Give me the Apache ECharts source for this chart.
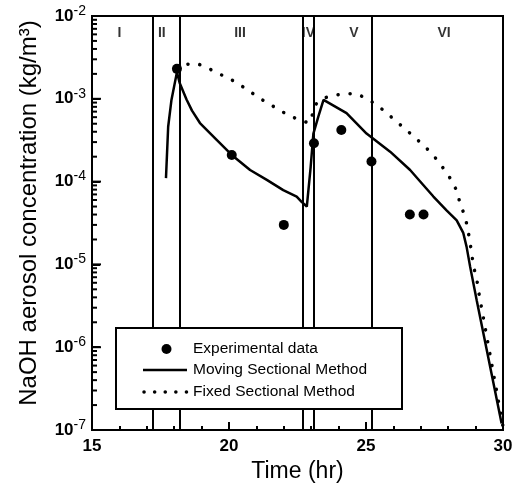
<!DOCTYPE html>
<html><head><meta charset="utf-8">
<script src="https://cdn.jsdelivr.net/npm/echarts@6/dist/echarts.min.js"></script>
<style>html,body{margin:0;padding:0;background:#fff}#c{width:521px;height:483px}</style>
</head><body><div id="c"></div>
<script>
// ---- data ----
const expX = [18.1, 20.1, 22.0, 23.1, 24.1, 25.2, 26.6, 27.1];
const expY = [2.3e-3, 2.1e-4, 3.0e-5, 2.9e-4, 4.2e-4, 1.75e-4, 4.0e-5, 4.0e-5];

const movingX = [17.7, 17.78, 17.9, 18.1, 18.2, 18.45, 18.65, 18.94, 19.55, 20.1, 20.77, 21.38, 21.98, 22.47, 22.65, 22.84, 22.98, 23.08, 23.26, 23.45, 24.29, 25.02, 25.88, 26.61, 27.09, 27.46, 27.94, 28.31, 28.55, 28.67, 28.8, 29.04, 29.95];
const movingY = [1.1e-4, 4.6e-4, 9.7e-4, 2.1e-3, 1.55e-3, 9.8e-4, 7.2e-4, 5.1e-4, 3.2e-4, 2.1e-4, 1.38e-4, 1.05e-4, 7.9e-5, 6.6e-5, 5.7e-5, 5.0e-5, 1.5e-4, 3.8e-4, 6.1e-4, 9.7e-4, 6.7e-4, 3.8e-4, 2.3e-4, 1.38e-4, 9.1e-5, 6.6e-5, 4.5e-5, 3.4e-5, 2.4e-5, 1.64e-5, 9.4e-6, 3.7e-6, 1.2e-7];

const fixedX = [18.1, 18.4, 18.82, 19.25, 19.73, 20.22, 20.65, 21.13, 21.59, 22.04, 22.53, 22.93, 23.05, 23.15, 23.4, 23.69, 24.18, 24.66, 25.12, 25.63, 26.06, 26.51, 26.97, 27.4, 27.76, 28.07, 28.31, 28.43, 28.61, 28.71, 28.86, 28.92, 29.04, 29.1, 30.0];
const fixedY = [2.3e-3, 2.6e-3, 2.68e-3, 2.33e-3, 1.94e-3, 1.61e-3, 1.3e-3, 1.01e-3, 8.2e-4, 6.7e-4, 5.6e-4, 5.1e-4, 6.5e-4, 8.5e-4, 1.0e-3, 1.08e-3, 1.15e-3, 1.15e-3, 9.7e-4, 7.3e-4, 5.5e-4, 4.1e-4, 3.0e-4, 2.2e-4, 1.55e-4, 1.1e-4, 7.8e-5, 5.5e-5, 3.8e-5, 2.75e-5, 1.35e-5, 9.5e-6, 6.8e-6, 4.9e-6, 1.1e-7];

const boundaries = [17.2, 18.2, 22.7, 23.1, 25.2];
const regionNames = ['I', 'II', 'III', 'IV', 'V', 'VI'];
const regionX = [16.0, 17.55, 20.4, 22.9, 24.56, 27.85];
const regionY = 6.2e-3;

const legendNames = ['Experimental data', 'Moving Sectional Method', 'Fixed Sectional Method'];
const yMajor = [1e-7, 1e-6, 1e-5, 1e-4, 1e-3, 1e-2];

// minor ticks for log axis (2..9 per decade)
const yMinor = [];
for (let k = -7; k <= -3; k++) for (let m = 2; m <= 9; m++) yMinor.push(m * Math.pow(10, k));

const FONT = 'Liberation Sans, Arial, sans-serif';
const chart = echarts.init(document.getElementById('c'));
const zip = (a, b) => a.map((v, i) => [v, b[i]]);

// legend drawn as graphics (box + keys + real text)
const LX = 116, LY = 328, LW = 286, LH = 81;
const rowY = [349, 370, 392];
const keyX0 = 143, keyX1 = 187, textX = 193;
const legendGraphics = [
  { type: 'rect', z: 100, shape: { x: LX, y: LY, width: LW, height: LH }, style: { fill: '#fff', stroke: '#000', lineWidth: 2 } },
  { type: 'circle', z: 101, shape: { cx: 166.5, cy: rowY[0], r: 5 }, style: { fill: '#000' } },
  { type: 'line', z: 101, shape: { x1: keyX0, y1: rowY[1], x2: keyX1, y2: rowY[1] }, style: { stroke: '#000', lineWidth: 2.5 } },
  { type: 'line', z: 101, shape: { x1: keyX0 + 1, y1: rowY[2], x2: keyX1, y2: rowY[2] }, style: { stroke: '#000', lineWidth: 3.5, lineDash: [0.1, 10.5], lineCap: 'round' } }
].concat(legendNames.map((t, i) => ({
  type: 'text', z: 101,
  style: { text: t, x: textX, y: rowY[i], verticalAlign: 'middle', align: 'left', font: '15.5px ' + FONT, fill: '#000' }
})));

chart.setOption({
  animation: false,
  backgroundColor: '#fff',
  grid: { left: 92, right: 18, top: 16, bottom: 53, outerBoundsMode: 'none', containLabel: false, show: true, borderColor: '#000', borderWidth: 2, backgroundColor: 'transparent' },
  xAxis: {
    type: 'value', min: 15, max: 30, interval: 5,
    name: 'Time (hr)', nameLocation: 'middle', nameGap: 27,
    nameTextStyle: { fontFamily: FONT, fontSize: 23, color: '#000' },
    axisLine: { lineStyle: { color: '#000', width: 2 } },
    axisTick: { inside: true, length: 8, lineStyle: { color: '#000', width: 2 } },
    minorTick: { show: true, splitNumber: 5, length: 4, lineStyle: { color: '#000', width: 2 } },
    splitLine: { show: false },
    axisLabel: { fontFamily: FONT, fontSize: 17, color: '#000', margin: 8, fontWeight: 'bold' }
  },
  yAxis: {
    type: 'log', logBase: 10, min: 1e-7, max: 1e-2,
    name: 'NaOH aerosol concentration (kg/m³)', nameLocation: 'middle', nameGap: 51,
    nameTextStyle: { fontFamily: FONT, fontSize: 24, color: '#000', padding: [0, 0, 0, 20] },
    axisLine: { lineStyle: { color: '#000', width: 2 } },
    axisTick: { inside: true, length: 8, lineStyle: { color: '#000', width: 2 } },
    splitLine: { show: false },
    axisLabel: {
      margin: 6, color: '#000',
      formatter: v => '{b|10}{s|' + Math.round(Math.log10(v)) + '}',
      rich: {
        b: { fontFamily: FONT, fontSize: 17, color: '#000', fontWeight: 'bold' },
        s: { fontFamily: FONT, fontSize: 14, color: '#000', padding: [0, 0, 10, 0] }
      }
    }
  },
  graphic: legendGraphics,
  series: [
    {
      name: 'bounds', type: 'line', data: [], silent: true,
      markLine: {
        symbol: 'none', silent: true, label: { show: false },
        lineStyle: { color: '#000', width: 2, type: 'solid' },
        data: boundaries.map(b => ({ xAxis: b }))
      }
    },
    {
      name: 'regions', type: 'scatter', symbolSize: 0, silent: true,
      data: regionNames.map((n, i) => ({ name: n, value: [regionX[i], regionY] })),
      label: { show: true, position: 'inside', formatter: p => p.name, fontFamily: FONT, fontSize: 14, fontWeight: 'bold', color: '#000' }
    },
    {
      name: 'Fixed Sectional Method', type: 'line', showSymbol: false, symbol: 'none',
      data: zip(fixedX, fixedY),
      lineStyle: { color: '#000', width: 3.5, type: [0.1, 12], cap: 'round' }
    },
    {
      name: 'Moving Sectional Method', type: 'line', showSymbol: false, symbol: 'none',
      data: zip(movingX, movingY),
      lineStyle: { color: '#000', width: 2.5 }
    },
    {
      name: 'Experimental data', type: 'scatter', symbol: 'circle', symbolSize: 10,
      data: zip(expX, expY),
      itemStyle: { color: '#000', opacity: 1 }
    }
  ]
});

// y-axis tick marks positioned through the library's own log scale
const tickGraphics = [];
yMinor.forEach(v => {
  const p = chart.convertToPixel({ gridIndex: 0 }, [15, v]);
  tickGraphics.push({ type: 'line', z: 50, shape: { x1: p[0], y1: p[1], x2: p[0] + 5, y2: p[1] }, style: { stroke: '#000', lineWidth: 2 } });
});
yMajor.forEach(v => {
  const p = chart.convertToPixel({ gridIndex: 0 }, [15, v]);
  tickGraphics.push({ type: 'line', z: 50, shape: { x1: p[0], y1: p[1], x2: p[0] + 9, y2: p[1] }, style: { stroke: '#000', lineWidth: 2 } });
});
chart.setOption({ graphic: legendGraphics.concat(tickGraphics) });
</script></body></html>
